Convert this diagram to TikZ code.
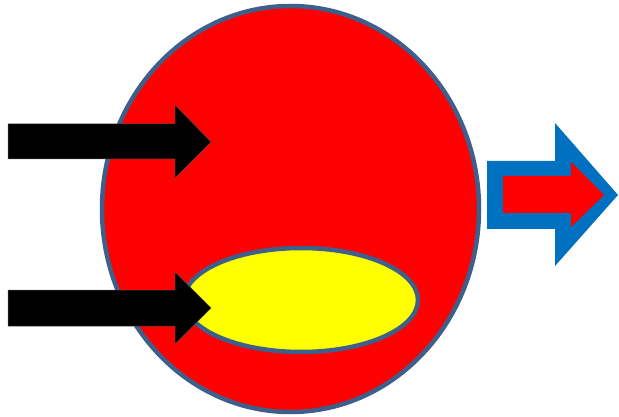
\documentclass[tikz,border=0pt]{standalone}
\usepackage{xcolor}
\usepackage{tikz}
\definecolor{rimblue}{HTML}{3E5F8A}
\definecolor{outblue}{HTML}{0070C0}
\definecolor{cellred}{HTML}{FF0000}
\definecolor{coreyellow}{HTML}{FFFF00}

\begin{document}
\begin{tikzpicture}[
  x=1pt, y=-1pt,
  body/.style={fill=cellred, draw=rimblue, line width=4.5pt},
  core/.style={fill=coreyellow, draw=rimblue, line width=4.5pt},
  inarrow/.style={fill=black, draw=black!70, line width=0.5pt},
  outarrow/.style={fill=outblue},
  outcore/.style={fill=cellred}
]
\useasboundingbox (0,0) rectangle (619,417);
% cell body and inclusion
\draw[body] (290.5,209) ellipse [x radius=188.5, y radius=203];
\draw[core] (301,300) ellipse [x radius=117, y radius=52];
% incoming arrows
\draw[inarrow] (8,124) -- (175,124) -- (175,105) -- (211,142)
  -- (175,178) -- (175,159) -- (8,159) -- cycle;
\draw[inarrow] (8,290) -- (175,290) -- (175,272) -- (211,308)
  -- (175,344) -- (175,326) -- (8,326) -- cycle;
% outgoing arrow
\fill[outarrow] (487,161) -- (555,161) -- (555,123) -- (618,195)
  -- (555,266) -- (555,229) -- (487,229) -- cycle;
\fill[outcore] (503,176) -- (571,176) -- (571,162) -- (604,195)
  -- (571,227) -- (571,213) -- (503,213) -- cycle;
\end{tikzpicture}
\end{document}
